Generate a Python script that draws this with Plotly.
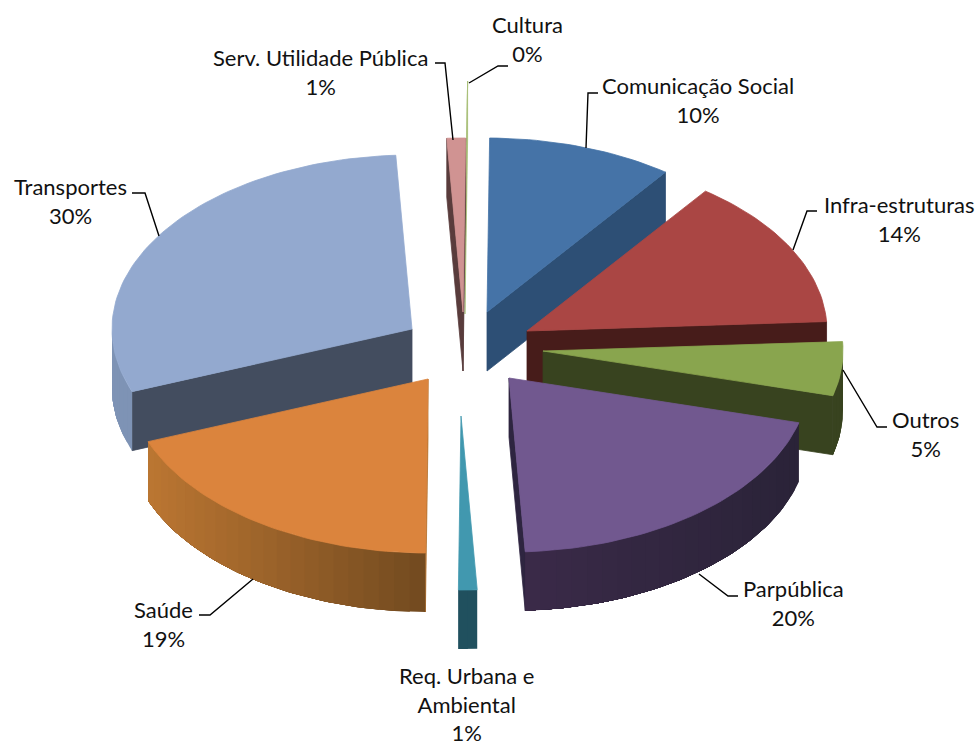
import math
import plotly.graph_objects as go

# Share of each sector, in percent, clockwise from the top of the pie
categories = ["Comunicação Social", "Infra-estruturas", "Outros", "Parpública",
              "Req. Urbana e<br>Ambiental", "Saúde", "Transportes",
              "Serv. Utilidade Pública", "Cultura"]
values = [10, 14, 5, 20, 1, 19, 30, 1, 0]

# Colours per sector: top face, cut faces, outer wall (left and right end of its shading)
top_colors = ["#4573a7", "#aa4644", "#89a54e", "#71588f", "#4198af",
              "#db843d", "#93a9cf", "#d09392", "#a9c07a"]
cut_colors = ["#2d4f75", "#471c1a", "#38431f", "#2e2540", "#20505e",
              "#b5722f", "#434d5f", "#593c3c", "#a9c07a"]
wall_colors = [("#2d4f75", "#2d4f75"), ("#471c1a", "#471c1a"), ("#38431f", "#38431f"),
               ("#3a2a48", "#2a2338"), ("#20505e", "#20505e"), ("#bb7632", "#724a1f"),
               ("#7e93b5", "#7e93b5"), ("#593c3c", "#593c3c"), ("#a9c07a", "#a9c07a")]

# Explosion of each sector in pixels, from the pie centre
pulls = [(21, -48), (61, -29), (77, -9), (43, 18), (-5, 56),
         (-38, 19), (-54, -31), (-3, -48), (-1, -105)]

CX, CY = 466, 360        # pie centre
RX, RY = 300, 174        # ellipse radii of the tilted disc
DEPTH = 59               # thickness of the disc
ROTATION = 0.5           # first slice angle, degrees
DRAW_ORDER = [8, 7, 0, 6, 1, 2, 3, 5, 4]   # back to front

# Label anchor (centre x, centre y) and leader polyline for each sector
label_pos = [(698, 100), (899, 219), (925, 434), (793, 603), (466, 704),
             (163, 624), (70, 201), (320, 72), (527, 39)]
leaders = [
    [(598, 93), (588, 93), (586, 148)],
    [(817, 211), (807, 211), (793, 250)],
    [(887, 427), (877, 427), (843, 370)],
    [(738, 596), (728, 596), (699, 574)],
    [],
    [(199, 615), (210, 615), (253, 579)],
    [(132, 193), (145, 193), (159, 236)],
    [(435, 63), (445, 63), (453, 140)],
    [(508, 66), (498, 66), (469, 83)],
]


def rim(tip, angle_deg, drop=0):
    a = math.radians(angle_deg)
    return tip[0] + RX * math.sin(a), tip[1] - RY * math.cos(a) + drop


def mix(c1, c2, t):
    p = [int(c1[i:i + 2], 16) for i in (1, 3, 5)]
    q = [int(c2[i:i + 2], 16) for i in (1, 3, 5)]
    return "rgb({},{},{})".format(*[round(a + (b - a) * t) for a, b in zip(p, q)])


fig = go.Figure()


def polygon(points, color, edge=0.8):
    xs = [p[0] for p in points] + [points[0][0]]
    ys = [p[1] for p in points] + [points[0][1]]
    fig.add_trace(go.Scatter(x=xs, y=ys, mode="lines", fill="toself", fillcolor=color,
                             line=dict(color=color, width=edge), hoverinfo="skip",
                             showlegend=False))


# Slice boundaries follow from the values
starts = []
running = ROTATION
for v in values:
    starts.append(running)
    running += v * 3.6

for i in DRAW_ORDER:
    start = starts[i]
    end = start + values[i] * 3.6
    tip = (CX + pulls[i][0], CY + pulls[i][1])
    tip_low = (tip[0], tip[1] + DEPTH)

    # Cut faces, only those turned towards the viewer
    if math.sin(math.radians(start)) < 0:
        polygon([tip, rim(tip, start), rim(tip, start, DEPTH), tip_low], cut_colors[i])
    if math.sin(math.radians(end)) > 0:
        polygon([tip, rim(tip, end), rim(tip, end, DEPTH), tip_low], cut_colors[i])

    # Outer wall on the front half: shaded strips, each running on under the next
    lo, hi = max(start, 90), min(end, 270)
    if hi > lo:
        n = max(1, math.ceil((hi - lo) / 3))
        xs_span = [rim(tip, lo)[0], rim(tip, hi)[0]]
        left, right = min(xs_span), max(xs_span)
        for k in range(n):
            a0 = lo + (hi - lo) * k / n
            span = [lo + (hi - lo) * j / (2 * n) for j in range(2 * k, 2 * n + 1)]
            xm = rim(tip, a0 + (hi - lo) / (2 * n))[0]
            t = (xm - left) / max(right - left, 1)
            polygon([rim(tip, a) for a in span] + [rim(tip, a, DEPTH) for a in reversed(span)],
                    mix(wall_colors[i][0], wall_colors[i][1], t), edge=0)

    # Top face
    steps = max(2, math.ceil((end - start) / 1.5))
    arc = [rim(tip, start + (end - start) * k / steps) for k in range(steps + 1)]
    polygon([tip] + arc, top_colors[i])

# Leader lines
for path in leaders:
    if path:
        fig.add_trace(go.Scatter(x=[p[0] for p in path], y=[p[1] for p in path], mode="lines",
                                 line=dict(color="#000000", width=1.4), hoverinfo="skip",
                                 showlegend=False))

# Sector labels
for cat, val, (lx, ly) in zip(categories, values, label_pos):
    fig.add_annotation(x=lx, y=ly, text=f"{cat}<br>{val}%", showarrow=False,
                       xanchor="center", yanchor="middle", align="center",
                       font=dict(family="Lato", size=22, color="#111111"))

fig.update_layout(
    width=978, height=745,
    margin=dict(l=0, r=0, t=0, b=0),
    paper_bgcolor="#ffffff", plot_bgcolor="#ffffff",
    xaxis=dict(range=[0, 978], visible=False, fixedrange=True),
    yaxis=dict(range=[745, 0], visible=False, fixedrange=True),
    showlegend=False,
)

fig.write_html("out.html", config=dict(displayModeBar=False))
